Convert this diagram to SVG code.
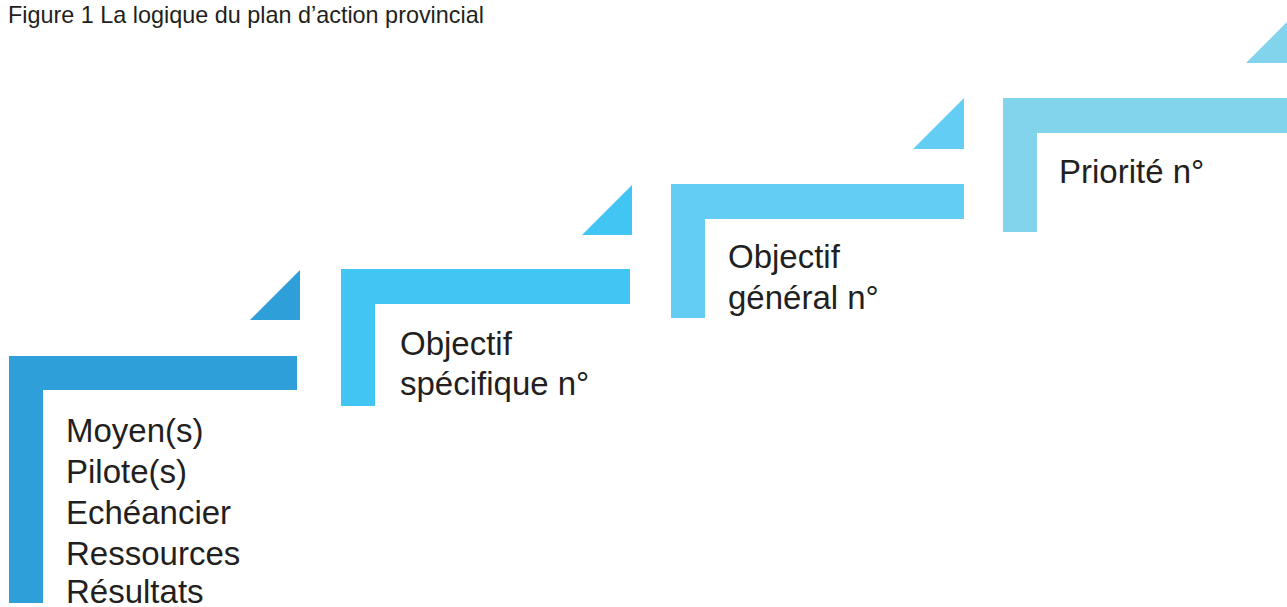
<svg xmlns="http://www.w3.org/2000/svg" width="1287" height="607" viewBox="0 0 1287 607">
  <style>
    .title { font-family: "Liberation Sans", Arial, sans-serif; font-size: 23.4px; fill: #231f20; }
    .label { font-family: "Liberation Sans", Arial, sans-serif; font-size: 33px; fill: #231f20; }
    .s1 { fill: #2e9fd9; }
    .s2 { fill: #42c5f2; }
    .s3 { fill: #63cdf3; }
    .s4 { fill: #82d3ec; }
  </style>
  <rect width="1287" height="607" fill="#ffffff"/>

  <text class="title" x="8" y="23">Figure 1 La logique du plan d’action provincial</text>

  <!-- Step 1 -->
  <g id="step-moyens">
    <polygon class="s1" points="300,270 300,320 250,320"/>
    <path class="s1" d="M9,356 H297 V390 H43 V603 H9 Z"/>
    <text class="label" x="66" y="442">Moyen(s)</text>
    <text class="label" x="66" y="483">Pilote(s)</text>
    <text class="label" x="66" y="524">Echéancier</text>
    <text class="label" x="66" y="565">Ressources</text>
    <text class="label" x="66" y="603">Résultats</text>
  </g>

  <!-- Step 2 -->
  <g id="step-objectif-specifique">
    <polygon class="s2" points="632,185 632,235 582,235"/>
    <path class="s2" d="M341,269 H630 V304 H375 V406 H341 Z"/>
    <text class="label" x="400" y="355">Objectif</text>
    <text class="label" x="400" y="395">spécifique n°</text>
  </g>

  <!-- Step 3 -->
  <g id="step-objectif-general">
    <polygon class="s3" points="964,98 964,149 913,149"/>
    <path class="s3" d="M671,184 H964 V219 H705 V318 H671 Z"/>
    <text class="label" x="728" y="268">Objectif</text>
    <text class="label" x="728" y="309">général n°</text>
  </g>

  <!-- Step 4 -->
  <g id="step-priorite">
    <polygon class="s4" points="1296,13 1296,63 1246,63"/>
    <path class="s4" d="M1003,98 H1295 V133 H1037 V232 H1003 Z"/>
    <text class="label" x="1059" y="183">Priorité n°</text>
  </g>

  <g id="connectors"/>
</svg>
